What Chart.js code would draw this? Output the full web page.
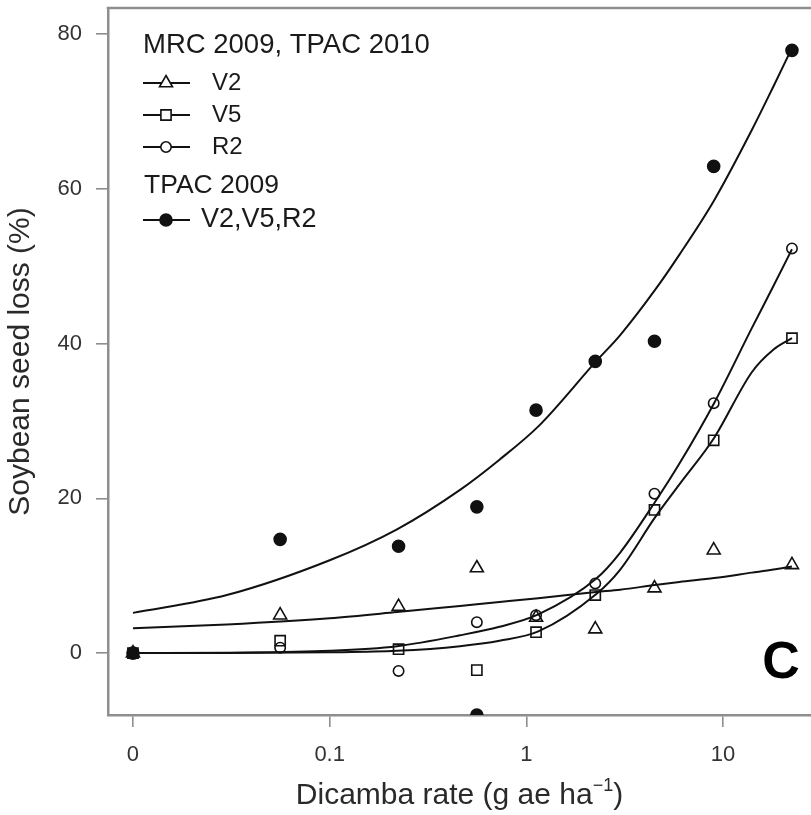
<!DOCTYPE html>
<html>
<head>
<meta charset="utf-8">
<script src="https://cdn.jsdelivr.net/npm/chart.js@4.4.0/dist/chart.umd.min.js"></script>
<style>
  html, body { margin: 0; padding: 0; background: #fff; overflow: hidden; }
  #wrap { position: relative; width: 811px; height: 815px; }
</style>
</head>
<body>
<div id="wrap"><canvas id="c" width="811" height="815"></canvas></div>
<script>
// Dicamba rates (g ae/ha); the untreated control (0) is placed at the axis break
const rates = [0, 0.056, 0.224, 0.56, 1.12, 2.24, 4.48, 8.96, 22.4];
const ZERO_AT = 0.01;

// Observed soybean seed loss (%), MRC 2009 + TPAC 2010, by application timing
const lossV2 = [0, 4.9, 6.0, 11.0, 4.6, 3.1, 8.4, 13.3, 11.4];
const lossV5 = [0, 1.6, 0.5, -2.2, 2.7, 7.5, 18.5, 27.5, 40.7];
const lossR2 = [0, 0.7, -2.3, 4.0, 4.9, 9.0, 20.6, 32.3, 52.3];

// TPAC 2009, all timings pooled
const tpacRates = [0, 0.056, 0.224, 0.56, 0.56, 1.12, 2.24, 4.48, 8.96, 22.4];
const lossTpac = [0, 14.7, 13.8, 18.9, -8.0, 31.4, 37.7, 40.3, 62.9, 77.9];

// Fitted response curves, sampled along the rate axis
const curveRates = [0, 0.03, 0.1, 0.22, 0.46, 0.73, 1.15, 2.26, 3, 4.5, 6, 9, 14, 18, 22.4];
const fitTpac = [5.2, 7.5, 12.0, 16.0, 21.1, 25.0, 29.3, 37.7, 41.1, 46.9, 51.5, 58.5, 67.6, 73.2, 78.2];
const fitV2   = [3.2, 3.7, 4.5, 5.3, 6.1, 6.6, 7.1, 7.9, 8.2, 8.8, 9.2, 9.7, 10.4, 10.8, 11.2];
const fitR2   = [0, 0.05, 0.3, 0.9, 2.3, 3.4, 5.0, 9.6, 13.0, 19.5, 24.5, 32.3, 42.0, 47.4, 52.2];
const fitV5   = [0, 0, 0.1, 0.3, 0.9, 1.6, 2.8, 7.6, 10.8, 17.5, 21.8, 27.8, 36.3, 39.2, 40.7];

// Axis ticks
const xTicks = [0.01, 0.1, 1, 10];
const xTickLabels = ['0', '0.1', '1', '10'];
const yTicks = [0, 20, 40, 60, 80];

// Legend text
const groupTitles = ['MRC 2009, TPAC 2010', 'TPAC 2009'];
const timingNames = ['V2', 'V5', 'R2'];
const pooledName = 'V2,V5,R2';

const FONT = '"Liberation Sans", Arial, Helvetica, sans-serif';
const INK = '#111';
const AXIS_GREY = '#8e8e8e';

const toPos = r => (r === 0 ? ZERO_AT : r);
const pts = (xs, ys) => xs.map((r, i) => ({ x: toPos(r), y: ys[i] }));

const markers = {
  V2: { pointStyle: 'triangle', radius: 7.5, filled: false },
  V5: { pointStyle: 'rect', radius: 7.2, filled: false },
  R2: { pointStyle: 'circle', radius: 5.2, filled: false },
  pooled: { pointStyle: 'circle', radius: 6, filled: true }
};

function pointSet(label, xs, ys, m) {
  return {
    label, data: pts(xs, ys), showLine: false, order: 0, clip: 0,
    pointStyle: m.pointStyle, pointRadius: m.radius,
    pointBorderWidth: 1.6, pointBorderColor: INK,
    pointBackgroundColor: m.filled ? INK : 'rgba(0,0,0,0)'
  };
}
function curveSet(label, ys) {
  return {
    type: 'line', label, data: pts(curveRates, ys), order: 1, clip: 0,
    borderColor: INK, borderWidth: 2, pointRadius: 0, fill: false,
    cubicInterpolationMode: 'monotone'
  };
}

// Grouped legend, the panel letter, the top frame line and the x-axis title
const decorations = {
  id: 'decorations',
  afterDraw(chart) {
    const ctx = chart.ctx;
    const area = chart.chartArea;
    ctx.save();

    // top edge of the plot frame
    ctx.strokeStyle = AXIS_GREY;
    ctx.lineWidth = 2.5;
    ctx.beginPath();
    ctx.moveTo(area.left - 1.25, area.top);
    ctx.lineTo(area.right, area.top);
    ctx.stroke();

    // legend
    ctx.fillStyle = '#1a1a1a';
    ctx.textBaseline = 'middle';
    ctx.textAlign = 'left';
    ctx.font = '27.5px ' + FONT;
    ctx.fillText(groupTitles[0], 143, 45);
    ctx.font = '26.5px ' + FONT;
    ctx.fillText(groupTitles[1], 144, 186);

    const entry = (y, m, text, textX, size) => {
      ctx.strokeStyle = INK;
      ctx.lineWidth = 2;
      ctx.beginPath();
      ctx.moveTo(143, y);
      ctx.lineTo(190, y);
      ctx.stroke();
      ctx.fillStyle = m.filled ? INK : '#fff';
      ctx.strokeStyle = INK;
      ctx.lineWidth = 1.6;
      Chart.helpers.drawPoint(ctx, { pointStyle: m.pointStyle, radius: m.radius, borderWidth: 1.6, rotation: 0 }, 166, y);
      ctx.fillStyle = '#1a1a1a';
      ctx.font = size + 'px ' + FONT;
      ctx.fillText(text, textX, y);
    };
    entry(83, markers.V2, timingNames[0], 212, 24);
    entry(115, markers.V5, timingNames[1], 212, 24);
    entry(147, markers.R2, timingNames[2], 212, 24);
    entry(220, markers.pooled, pooledName, 201, 27);

    // panel letter
    ctx.fillStyle = '#000';
    ctx.textAlign = 'center';
    ctx.font = 'bold 52px ' + FONT;
    ctx.fillText('C', 781, 664);

    // x-axis title with superscript
    const main = 'Dicamba rate (g ae ha';
    const sup = '\u22121';
    const tail = ')';
    ctx.textAlign = 'left';
    ctx.fillStyle = '#2a2a2a';
    ctx.font = '30px ' + FONT;
    const wMain = ctx.measureText(main).width;
    const wTail = ctx.measureText(tail).width;
    ctx.font = '18px ' + FONT;
    const wSup = ctx.measureText(sup).width;
    const cx = (area.left + area.right) / 2;
    let x = cx - (wMain + wSup + wTail) / 2;
    const y = 796;
    ctx.font = '30px ' + FONT;
    ctx.fillText(main, x, y);
    x += wMain;
    ctx.font = '18px ' + FONT;
    ctx.fillText(sup, x, y - 10);
    x += wSup;
    ctx.font = '30px ' + FONT;
    ctx.fillText(tail, x, y);
    ctx.restore();
  }
};

new Chart(document.getElementById('c'), {
  type: 'scatter',
  data: {
    datasets: [
      curveSet('fit TPAC 2009', fitTpac),
      curveSet('fit V2', fitV2),
      curveSet('fit V5', fitV5),
      curveSet('fit R2', fitR2),
      pointSet(timingNames[0], rates, lossV2, markers.V2),
      pointSet(timingNames[1], rates, lossV5, markers.V5),
      pointSet(timingNames[2], rates, lossR2, markers.R2),
      pointSet(pooledName, tpacRates, lossTpac, markers.pooled)
    ]
  },
  options: {
    responsive: false,
    devicePixelRatio: 1,
    animation: false,
    layout: { autoPadding: false, padding: { top: 8, left: 0, right: 0, bottom: 0 } },
    plugins: { legend: { display: false }, tooltip: { enabled: false } },
    scales: {
      x: {
        type: 'logarithmic',
        bounds: 'data',
        min: Math.pow(10, -2.127),
        max: Math.pow(10, 1.447),
        afterBuildTicks: s => { s.ticks = xTicks.map(v => ({ value: v })); },
        afterFit: s => { s.height = 100; s.paddingLeft = 0; s.paddingRight = 0; },
        ticks: {
          autoSkip: false, maxRotation: 0, padding: 15,
          color: '#333', font: { family: FONT, size: 22 },
          callback: v => { const i = xTicks.indexOf(v); return i >= 0 ? xTickLabels[i] : ''; }
        },
        grid: { drawOnChartArea: false, drawTicks: true, tickLength: 12, color: AXIS_GREY, lineWidth: 1.6 },
        border: { display: true, color: AXIS_GREY, width: 2.5 }
      },
      y: {
        type: 'linear',
        bounds: 'data',
        min: -8.0,
        max: 83.37,
        afterBuildTicks: s => { s.ticks = yTicks.map(v => ({ value: v })); },
        afterFit: s => { s.width = 108; s.paddingTop = 0; s.paddingBottom = 0; },
        ticks: { padding: 14, color: '#333', font: { family: FONT, size: 22 } },
        grid: { drawOnChartArea: false, drawTicks: true, tickLength: 12, color: AXIS_GREY, lineWidth: 1.6 },
        border: { display: true, color: AXIS_GREY, width: 2.5 },
        title: {
          display: true, text: 'Soybean seed loss (%)', color: '#2a2a2a',
          font: { family: FONT, size: 30 }, padding: { top: 3, bottom: 0 }
        }
      }
    }
  },
  plugins: [decorations]
});
</script>
</body>
</html>
